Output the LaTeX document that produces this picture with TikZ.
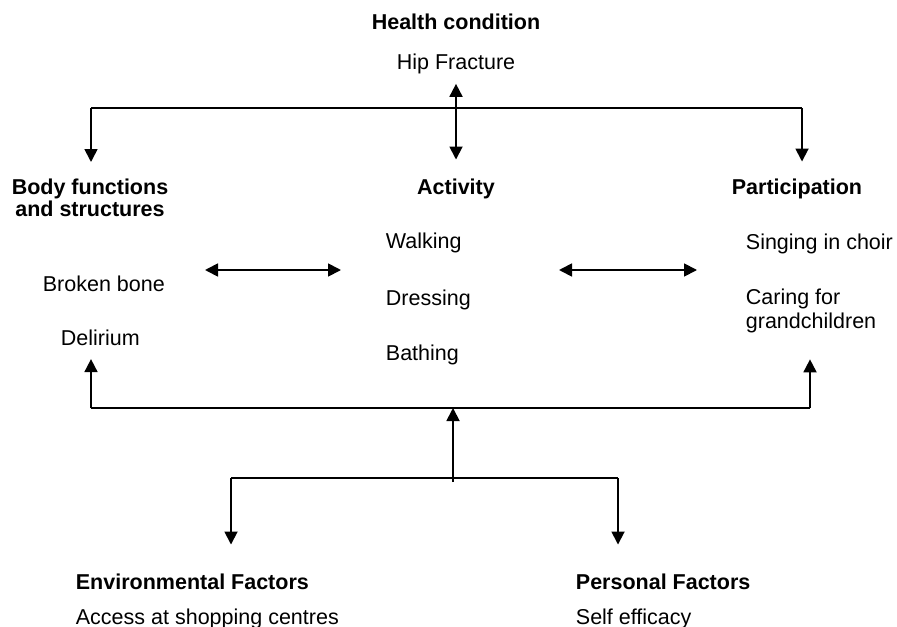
\documentclass[tikz,border=0pt]{standalone}
\usepackage{fontspec}
\setmainfont{Liberation Sans}
\usetikzlibrary{arrows.meta,positioning}

\begin{document}
\begin{tikzpicture}[x=0.5pt,y=-0.5pt,
    every node/.style={inner sep=0pt, font=\fontsize{10.75}{12}\selectfont},
    head/.style={font=\fontsize{10.75}{11}\selectfont\bfseries},
    >={Triangle[length=6.5pt,width=6.5pt]},
    line width=0.9pt]
  \useasboundingbox (0,0) rectangle (897,626);

  % health condition
  \node[head, anchor=base] (hc) at (456,30) {Health condition};
  \node[anchor=base] (hip) at (456,69) {Hip Fracture};

  % the three components
  \node[head, align=center, anchor=north] (body) at (90,178) {Body functions\\and structures};
  \node[head, anchor=base] (act) at (456,194) {Activity};
  \node[head, anchor=base] (part) at (797,194) {Participation};

  \node[anchor=base west] (bb) at (42,291) {Broken bone};
  \node[anchor=base west] (del) at (60,345) {Delirium};

  \node[anchor=base west] (walk) at (385,248) {Walking};
  \node[anchor=base west] (dress) at (385,305) {Dressing};
  \node[anchor=base west] (bath) at (385,360) {Bathing};

  \node[anchor=base west] (sing) at (745,249) {Singing in choir};
  \node[align=left, anchor=north west] (care) at (745,288) {Caring for\\grandchildren};

  % contextual factors
  \node[head, anchor=base west] (env) at (75,589) {Environmental Factors};
  \node[head, anchor=base west] (pers) at (575,589) {Personal Factors};
  \node[anchor=base west] (acc) at (75,624) {Access at shopping centres};
  \node[anchor=base west] (self) at (575,624) {Self efficacy};

  % top links
  \coordinate (tl) at (91,108);
  \coordinate (tr) at (802,108);
  \draw (tl) -- (tr);
  \draw[->, shorten >=8pt] (tl) -- (tl |- body.north);
  \draw[->, shorten >=8pt] (tr) -- (tr |- part.north);
  \draw[<->, shorten <=4.75pt, shorten >=9pt] (hip) -- (act);

  % between components
  \coordinate (la) at (205,270);
  \coordinate (lb) at (341,270);
  \coordinate (ra) at (559,270);
  \coordinate (rb) at (697,270);
  \draw[<->] (la) -- (lb);
  \draw[<->] (ra) -- (rb);

  % bottom links
  \coordinate (bl) at (91,408);
  \coordinate (br) at (810,408);
  \coordinate (bt) at (453,408);
  \coordinate (bm) at (453,482);
  \draw (bl) -- (br);
  \draw[->, shorten >=6.5pt] (bl) -- (bl |- del.south);
  \draw[->, shorten >=12.75pt] (br) -- (br |- care.south);
  \draw[->] (bm) -- (bt);

  \coordinate (el) at (231,478);
  \coordinate (pl) at (618,478);
  \draw (el) -- (pl);
  \draw[->, shorten >=14pt] (el) -- (el |- env.north);
  \draw[->, shorten >=14pt] (pl) -- (pl |- pers.north);
\end{tikzpicture}
\end{document}
